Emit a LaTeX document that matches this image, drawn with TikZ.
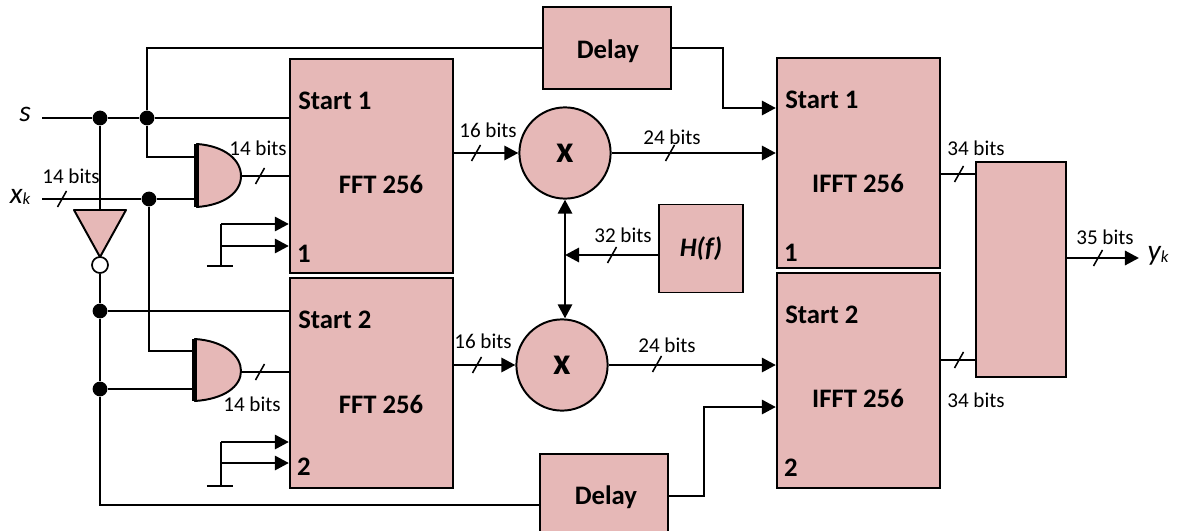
\documentclass[tikz,border=0pt]{standalone}
\usepackage{xcolor}
\usepackage{fontspec}
\usetikzlibrary{arrows.meta}
\setmainfont{Carlito}
\definecolor{blockpink}{HTML}{E6B8B7}
\tikzset{
    block/.style={draw, rectangle, fill=blockpink, line width=1.4pt, inner sep=0pt},
    mixer/.style={draw, circle, fill=blockpink, line width=1.4pt, inner sep=0pt, minimum size=2.28cm, font=\fontsize{27}{27}\selectfont\bfseries},
    gateshape/.style={draw, fill=blockpink, line width=1.4pt, line join=round},
    joint/.style={circle, fill=black, inner sep=0pt, minimum size=0.37cm},
    wire/.style={line width=1.4pt},
    sig/.style={line width=2.1pt, -{Triangle[length=10pt,width=10pt]}},
    bits/.style={font=\fontsize{15}{15}\selectfont, inner sep=0pt},
    boxtext/.style={font=\fontsize{19}{19}\selectfont\bfseries, inner sep=0pt, yshift=-0.7pt},
    iolabel/.style={font=\fontsize{21}{21}\selectfont\itshape, inner sep=0pt}
}
\newcommand{\subk}{\raisebox{-1pt}{\fontsize{12}{12}\selectfont k}}
\begin{document}
\begin{tikzpicture}[x=0.025cm, y=-0.025cm]
    \useasboundingbox (0,0) rectangle (1182,531);

    % Delays at top and bottom
    \node[block, minimum width=3.2cm, minimum height=2.03cm] (delayA) at (607,48) {};
    \node[block, minimum width=3.2cm, minimum height=2.1cm] (delayB) at (604,496) {};

    % FFT blocks
    \node[block, minimum width=4.08cm, minimum height=5.35cm] (fftA) at (371.5,166) {};
    \node[block, minimum width=4.08cm, minimum height=5.25cm] (fftB) at (371.5,383) {};

    % IFFT blocks and the block that joins them
    \node[block, minimum width=4.08cm, minimum height=5.25cm] (ifftA) at (858.5,163) {};
    \node[block, minimum width=4.08cm, minimum height=5.38cm] (ifftB) at (858.5,380.5) {};
    \node[block, minimum width=2.25cm, minimum height=5.38cm] (joiner) at (1021,269.5) {};

    % Multipliers and filter
    \node[mixer] (xA) at (565,153) {x};
    \node[mixer] (xB) at (562,365) {x};
    \node[block, minimum width=2.1cm, minimum height=2.2cm, font=\fontsize{19}{19}\selectfont\bfseries\itshape] (hf) at (701,248.5) {H(f)};

    % Gates
    \draw[gateshape] (197,144) .. controls (225,146) and (241,160) .. (241,176) .. controls (241,192) and (225,205) .. (197,207) -- cycle;
    \draw[gateshape] (195,339) .. controls (225,341) and (241,356) .. (241,371) .. controls (241,386) and (225,399) .. (195,401) -- cycle;
    \draw[gateshape] (74,210) -- (126,210) -- (100,257) -- cycle;
    \node[draw, circle, fill=white, line width=1.2pt, inner sep=0pt, minimum size=0.4cm] (bubble) at (100,265) {};

    % Junction dots
    \node[joint] (dotS) at (100,118) {};
    \node[joint] (dotT) at (147,118) {};
    \node[joint] (dotX) at (149,199) {};
    \node[joint] (dotN) at (100,311) {};
    \node[joint] (dotM) at (100,389) {};

    % Free ends and bends
    \coordinate (sIn) at (42,118);
    \coordinate (xIn) at (42,199);
    \coordinate (invTop) at (100,210);
    \coordinate (andAup) at (195,157);
    \coordinate (andAlo) at (195,199);
    \coordinate (andAout) at (241,176);
    \coordinate (andBup) at (193,351);
    \coordinate (andBlo) at (193,389);
    \coordinate (andBout) at (241,372);
    \coordinate (cornerB) at (100,505);
    \coordinate (delayBin) at (540,505);
    \coordinate (bendA) at (723,108);
    \coordinate (bendB) at (704,407);
    \coordinate (hfOut) at (659,255);
    \coordinate (ifftAout) at (940,174);
    \coordinate (ifftBout) at (940,360);
    \coordinate (yOut) at (1139,258);
    \coordinate (gndA) at (221,266);
    \coordinate (gndB) at (221,486);
    \coordinate (tieA) at (221,224);
    \coordinate (tieAlo) at (221,246);
    \coordinate (tieB) at (221,442);
    \coordinate (tieBlo) at (221,463);

    % Wires on the input side
    \draw[wire] (sIn) -- (dotS) -- (dotT) -- (dotT -| fftA.west);
    \draw[wire] (dotT) |- (delayA.west);
    \draw[wire] (dotT) |- (andAup);
    \draw[wire] (xIn) -- (dotX) -- (andAlo);
    \draw[wire] (dotX) |- (andBup);
    \draw[wire] (dotS) -- (invTop);
    \draw[wire] (bubble) -- (dotN) -- (dotM) -- (cornerB) -- (delayBin);
    \draw[wire] (dotN) -- (dotN -| fftB.west);
    \draw[wire] (dotM) -- (andBlo);
    \draw[wire] (andAout) -- (andAout -| fftA.west);
    \draw[wire] (andBout) -- (andBout -| fftB.west);

    % Thick back of the gates
    \draw[line width=3pt] (196.5,144) -- (196.5,207);
    \draw[line width=3pt] (194.5,339) -- (194.5,401);

    % Tied-off inputs
    \draw[sig] (tieA) -- (tieA -| fftA.west);
    \draw[sig] (tieAlo) -- (tieAlo -| fftA.west);
    \draw[wire] (tieA) -- (gndA);
    \draw[wire] ([xshift=-0.35cm]gndA) -- ([xshift=0.3cm]gndA);
    \draw[sig] (tieB) -- (tieB -| fftB.west);
    \draw[sig] (tieBlo) -- (tieBlo -| fftB.west);
    \draw[wire] (tieB) -- (gndB);
    \draw[wire] ([xshift=-0.35cm]gndB) -- ([xshift=0.3cm]gndB);

    % Signal path
    \draw[sig] (xA.west -| fftA.east) -- (xA.west);
    \draw[sig] (xB.west -| fftB.east) -- (xB.west);
    \draw[sig] (xA.east) -- (xA.east -| ifftA.west);
    \draw[sig] (xB.east) -- (xB.east -| ifftB.west);
    \draw[sig] (hfOut) -- (xA.south |- hfOut);
    \draw[line width=2.1pt, {Triangle[length=10pt,width=10pt]}-{Triangle[length=10pt,width=10pt]}] (xA.south) -- (xA.south |- xB.north);
    \draw[sig] (delayA.east) -| (bendA) -- (bendA -| ifftA.west);
    \draw[sig] (delayB.east) -| (bendB) -- (bendB -| ifftB.west);
    \draw[wire] (ifftAout) -- (ifftAout -| joiner.west);
    \draw[wire] (ifftBout) -- (ifftBout -| joiner.west);
    \draw[sig] (yOut -| joiner.east) -- (yOut);

    % Bus ticks
    \foreach \tx/\ty in {62/199, 260/176, 260/372, 476/153, 477/365, 670/153, 657/364, 612/255, 959/174, 959/360, 1098/258}
        \draw[line width=1.1pt] (\tx-4.5,\ty+8) -- (\tx+4.5,\ty-8);

    % Text in the blocks
    \node[boxtext] (delayTextA) at (608,50) {Delay};
    \node[boxtext] (delayTextB) at (606,496) {Delay};
    \node[boxtext, anchor=west] (startA) at (298,100) {Start 1};
    \node[boxtext, anchor=west] (startB) at (298,319) {Start 2};
    \node[boxtext, anchor=west] (startC) at (785,99) {Start 1};
    \node[boxtext, anchor=west] (startD) at (785,314) {Start 2};
    \node[boxtext] (fftTextA) at (381,183) {FFT 256};
    \node[boxtext] (fftTextB) at (381,403) {FFT 256};
    \node[boxtext] (ifftTextA) at (858,182) {IFFT 256};
    \node[boxtext] (ifftTextB) at (858,397) {IFFT 256};
    \node[boxtext] (numA) at (304,253) {1};
    \node[boxtext] (numB) at (304,466) {2};
    \node[boxtext] (numC) at (791,252) {1};
    \node[boxtext] (numD) at (791,467) {2};

    % Bus widths
    \node[bits] (bitsA) at (71,176) {14 bits};
    \node[bits] (bitsB) at (258,148) {14 bits};
    \node[bits] (bitsC) at (252,404) {14 bits};
    \node[bits] (bitsD) at (488,130) {16 bits};
    \node[bits] (bitsE) at (483,341) {16 bits};
    \node[bits] (bitsF) at (672,137) {24 bits};
    \node[bits] (bitsG) at (667,345) {24 bits};
    \node[bits] (bitsH) at (623,235) {32 bits};
    \node[bits] (bitsI) at (976,148) {34 bits};
    \node[bits] (bitsJ) at (976,400) {34 bits};
    \node[bits] (bitsK) at (1105,237) {35 bits};

    % Inputs and output
    \node[iolabel] (labelS) at (25,114) {s};
    \node[iolabel] (labelX) at (20,197) {x\subk};
    \node[iolabel] (labelY) at (1158,256) {y\subk};
\end{tikzpicture}
\end{document}
